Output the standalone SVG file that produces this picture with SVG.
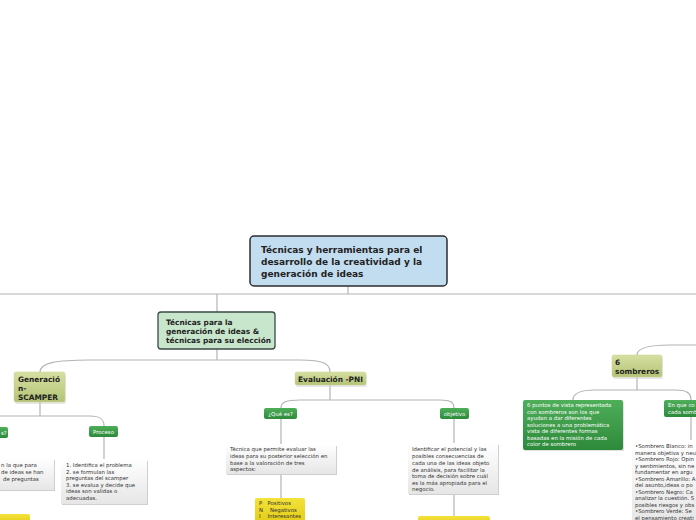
<svg xmlns="http://www.w3.org/2000/svg" width="696" height="520" viewBox="0 0 696 520">
<defs>
<linearGradient id="gOlive" x1="0" y1="0" x2="0" y2="1"><stop offset="0" stop-color="#d6e0a2"/><stop offset="1" stop-color="#b4c376"/></linearGradient>
<linearGradient id="gGreen" x1="0" y1="0" x2="0" y2="1"><stop offset="0" stop-color="#4fae5a"/><stop offset="1" stop-color="#2d8a3a"/></linearGradient>
<linearGradient id="gText" x1="0" y1="0" x2="0" y2="1"><stop offset="0" stop-color="#ffffff"/><stop offset="1" stop-color="#e6e6e6"/></linearGradient>
<linearGradient id="gYellow" x1="0" y1="0" x2="0" y2="1"><stop offset="0" stop-color="#f3e23a"/><stop offset="1" stop-color="#e2cc16"/></linearGradient>
</defs>
<style>
text{font-family:"DejaVu Sans","Liberation Sans",sans-serif;fill:#222}
.b{font-weight:bold}
.t1{font-size:9px}
.t2{font-size:7.4px}
.t3{font-size:5.4px;fill:#333}
.w{font-size:5.4px;fill:#fff}
.con{fill:none;stroke:#b4b4b4;stroke-width:1.2}
.olive{fill:url(#gOlive);stroke:#c9d29a;stroke-width:0.5}
.green{fill:url(#gGreen)}
.tb{fill:url(#gText)}
.sh{fill:#cfcfcf}
.yel{fill:url(#gYellow)}
</style>
<g id="connectors">
<path class="con" d="M0,294 H696 M348,286 V294 M217,294 V312"/>
<path class="con" d="M217,349 V360 M40,372 C40,363 55,360 90,360 H300 C324,360 330,364 330,372"/>
<path class="con" d="M40,402 V416 M0,416 H90 C100,416 104,419 104,426 M104,437 V459"/>
<path class="con" d="M330,385 V400 M281,408 C281,402 286,400 300,400 H440 C450,400 454,402 454,408"/>
<path class="con" d="M281,419 V444 M281,474 V498 M454,419 V443 M454,494 V516"/>
<path class="con" d="M637,355 C637,348 650,345 670,345 H696"/>
<path class="con" d="M637,377 V390 M573,400 C573,393 580,390 595,390 H675 C687,390 691,393 691,400 M691,417 V440"/>
</g>
<g id="root">
<rect x="250" y="236" width="197" height="50" rx="4" fill="#c3ddf0" stroke="#2e2e2e" stroke-width="1.5"/>
<text class="b t1" x="261" y="253">Técnicas y herramientas para el</text>
<text class="b t1" x="261" y="265">desarrollo de la creatividad y la</text>
<text class="b t1" x="261" y="277">generación de ideas</text>
</g>
<g id="tecnicas">
<rect x="158" y="312" width="117" height="37" rx="3" fill="#c8e6cc" stroke="#3a4a44" stroke-width="1.3"/>
<text class="b t2" x="166" y="325">Técnicas para la</text>
<text class="b t2" x="166" y="334">generación de ideas &amp;</text>
<text class="b t2" x="166" y="343">técnicas para su elección</text>
</g>
<g id="scamper">
<rect x="15" y="374" width="51" height="30" rx="2" class="sh" opacity="0.5"/>
<rect x="14" y="372" width="51" height="30" rx="2" class="olive"/>
<text class="b t2" x="18" y="382">Generació</text>
<text class="b t2" x="18" y="391">n-</text>
<text class="b t2" x="18" y="400">SCAMPER</text>
</g>
<g id="pni">
<rect x="296" y="374" width="71" height="13" rx="2" class="sh" opacity="0.5"/>
<rect x="295" y="372" width="71" height="13" rx="2" class="olive"/>
<text class="b t2" x="330.5" y="381.5" text-anchor="middle">Evaluación -PNI</text>
</g>
<g id="queEsScamper">
<rect x="-30" y="427" width="38" height="11" rx="2" class="green"/>
<text class="w" x="1" y="434.5">s?</text>
</g>
<g id="proceso">
<rect x="89" y="426" width="29" height="11" rx="2" class="green"/>
<text class="w" x="103.5" y="433.5" text-anchor="middle">Proceso</text>
</g>
<g id="scamperDef">
<rect x="-40" y="460" width="95" height="31" class="sh"/>
<rect x="-40" y="458" width="94" height="32" class="tb"/>
<text class="t3" x="1" y="467">n la que para</text>
<text class="t3" x="1" y="474">de ideas se han</text>
<text class="t3" x="3" y="481">de preguntas</text>
</g>
<g id="procesoText">
<rect x="62" y="461" width="86" height="44" class="sh"/>
<rect x="61" y="459" width="86" height="45" class="tb"/>
<text class="t3" x="66" y="467">1. Identifica el problema</text>
<text class="t3" x="66" y="474">2. se formulan las</text>
<text class="t3" x="66" y="480">preguntas del scamper</text>
<text class="t3" x="66" y="487">3. se evalua y decide que</text>
<text class="t3" x="66" y="493">ideas son validas o</text>
<text class="t3" x="66" y="500">adecuadas.</text>
</g>
<g id="yellowLeft">
<rect x="-10" y="514" width="40" height="10" rx="2" class="yel"/>
</g>
<g id="queEs">
<rect x="264" y="408" width="33" height="11" rx="2" class="green"/>
<text class="w" x="280.5" y="415.5" text-anchor="middle">¿Qué es?</text>
</g>
<g id="queEsText">
<rect x="227" y="446" width="110" height="29" class="sh"/>
<rect x="226" y="444" width="110" height="30" class="tb"/>
<text class="t3" x="230" y="451">Técnica que permite evaluar las</text>
<text class="t3" x="230" y="458">ideas para su posterior selección en</text>
<text class="t3" x="230" y="465">base a la valoración de tres</text>
<text class="t3" x="230" y="471">aspectos:</text>
</g>
<g id="pniBox">
<rect x="255" y="498" width="50" height="26" rx="2" class="yel"/>
<text class="t3" x="259" y="505" xml:space="preserve">P   Positivos</text>
<text class="t3" x="259" y="511.5" xml:space="preserve">N    Negativos</text>
<text class="t3" x="259" y="518" xml:space="preserve">I    Interesantes</text>
</g>
<g id="objetivo">
<rect x="440" y="408" width="29" height="11" rx="2" class="green"/>
<text class="w" x="454.5" y="415.5" text-anchor="middle">objetivo</text>
</g>
<g id="objetivoText">
<rect x="409" y="445" width="90" height="50" class="sh"/>
<rect x="408" y="443" width="90" height="51" class="tb"/>
<text class="t3" x="412" y="451">Identificar el potencial y las</text>
<text class="t3" x="412" y="458">posibles consecuencias de</text>
<text class="t3" x="412" y="465">cada una de las ideas objeto</text>
<text class="t3" x="412" y="472">de análisis, para facilitar la</text>
<text class="t3" x="412" y="478">toma de decisión sobre cuál</text>
<text class="t3" x="412" y="485">es la más apropiada para el</text>
<text class="t3" x="412" y="491">negocio.</text>
</g>
<g id="yellowRight">
<rect x="418" y="516" width="72" height="10" rx="2" class="yel"/>
</g>
<g id="sombreros">
<rect x="613" y="357" width="50" height="22" rx="2" class="sh" opacity="0.5"/>
<rect x="612" y="355" width="50" height="22" rx="2" class="olive"/>
<text class="b t2" x="615" y="365">6</text>
<text class="b t2" x="615" y="374">sombreros</text>
</g>
<g id="puntosVista">
<rect x="524" y="402" width="100" height="49" class="sh" opacity="0.6"/>
<rect x="523" y="400" width="100" height="50" rx="2" class="green"/>
<text class="w" x="527" y="407">6 puntos de vista representada</text>
<text class="w" x="527" y="413.5">con sombreros son los que</text>
<text class="w" x="527" y="420">ayudan a dar diferentes</text>
<text class="w" x="527" y="426.5">soluciones a una problemática</text>
<text class="w" x="527" y="433">vista de diferentes formas</text>
<text class="w" x="527" y="439.5">basadas en la misión de cada</text>
<text class="w" x="527" y="446">color de sombrero</text>
</g>
<g id="enQue">
<rect x="664" y="400" width="40" height="17" rx="2" class="green"/>
<text class="w" x="668" y="407">En que co</text>
<text class="w" x="668" y="414">cada somb</text>
</g>
<g id="sombrerosText">
<rect x="632" y="440" width="70" height="84" class="tb"/>
<text class="t3" x="635" y="448">•Sombrero Blanco: in</text>
<text class="t3" x="635" y="454.5">manera objetiva y neu</text>
<text class="t3" x="635" y="461">•Sombrero Rojo: Opin</text>
<text class="t3" x="635" y="467.5">y sentimientos, sin ne</text>
<text class="t3" x="635" y="474">fundamentar en argu</text>
<text class="t3" x="635" y="480.5">•Sombrero Amarillo: A</text>
<text class="t3" x="635" y="487">del asunto,ideas o po</text>
<text class="t3" x="635" y="493.5">•Sombrero Negro: Ca</text>
<text class="t3" x="635" y="500">analizar la cuestión. S</text>
<text class="t3" x="635" y="506.5">posibles riesgos y obs</text>
<text class="t3" x="635" y="513">•Sombrero Verde: Se</text>
<text class="t3" x="635" y="519.5">el pensamiento creati</text>
</g>
</svg>
